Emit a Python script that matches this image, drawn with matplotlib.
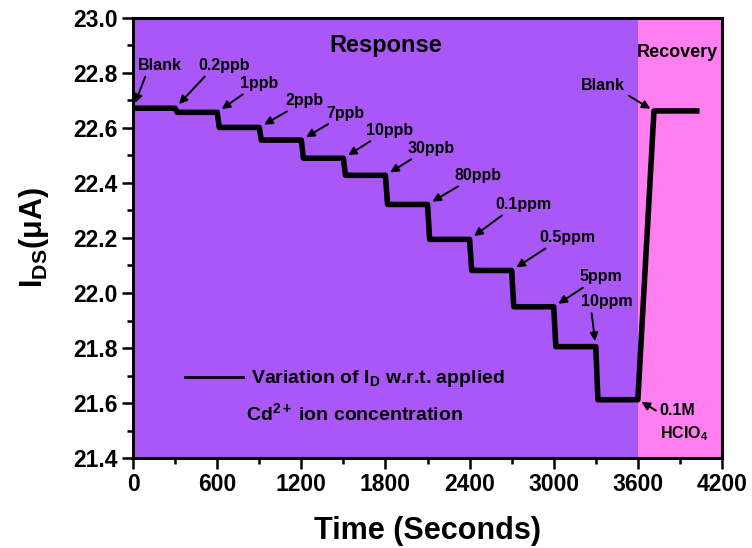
import matplotlib
matplotlib.use('Agg')
import matplotlib.pyplot as plt
from matplotlib.lines import Line2D

plt.rcParams['font.family'] = ['Liberation Sans', 'DejaVu Sans']
plt.rcParams['font.weight'] = 'bold'
plt.rcParams['mathtext.fontset'] = 'custom'
plt.rcParams['mathtext.rm'] = 'Liberation Sans:bold'
plt.rcParams['mathtext.bf'] = 'Liberation Sans:bold'
plt.rcParams['mathtext.it'] = 'Liberation Sans:bold:italic'
plt.rcParams['mathtext.default'] = 'bf'

# Datos
step_t = [0, 300, 600, 900, 1200, 1500, 1800, 2100, 2400, 2700, 3000, 3300]
levels = [22.672, 22.657, 22.602, 22.556, 22.490, 22.428, 22.322,
          22.195, 22.082, 21.950, 21.805, 21.612]
conc_labels = ['Blank', '0.2ppb', '1ppb', '2ppb', '7ppb', '10ppb', '30ppb',
               '80ppb', '0.1ppm', '0.5ppm', '5ppm', '10ppm']
resp_end = 3600
rec_t = [3715, 4020]
rec_level = 22.662

# desplazamiento del texto de cada etiqueta (pixeles)
label_offsets = [(5, 43), (23, 43), (23, 29), (26, 27), (25, 27), (23, 28),
                 (22, 27), (27, 29), (26, 35), (28, 33), (26, 30), (-15, 45)]

purple = '#a957f6'
pink = '#ff7ef0'

# construir la traza escalonada
t, cur = [], []
bounds = step_t[1:] + [resp_end]
for k, (t0, lvl) in enumerate(zip(step_t, levels)):
    start = t0 + 15 if k > 0 else t0
    t += [start, bounds[k]]
    cur += [lvl, lvl]
t += rec_t
cur += [rec_level, rec_level]

fig = plt.figure(figsize=(7.52, 5.48), dpi=100)
ax = fig.add_axes([0.1769, 0.1642, 0.7832, 0.803])

ax.axvspan(0, resp_end, color=purple, lw=0, zorder=0)
ax.axvspan(resp_end, 4200, color=pink, lw=0, zorder=0)
ax.plot(t, cur, color='black', lw=4, zorder=3)

ax.set_xlim(0, 4200)
ax.set_ylim(21.4, 23.0)
ax.set_xticks(range(0, 4201, 600))
ax.set_xticks(range(300, 4200, 600), minor=True)
ax.set_yticks([21.4, 21.6, 21.8, 22.0, 22.2, 22.4, 22.6, 22.8, 23.0])
ax.set_yticks([21.5, 21.7, 21.9, 22.1, 22.3, 22.5, 22.7, 22.9], minor=True)
ax.yaxis.set_major_formatter(matplotlib.ticker.FormatStrFormatter('%.1f'))
ax.tick_params(which='major', length=8, width=1.8, labelsize=16.5, pad=3)
ax.tick_params(which='minor', length=4.5, width=1.8)
for s in ax.spines.values():
    s.set_linewidth(2.2)

ax.set_xlabel('Time (Seconds)', fontsize=22, fontweight='bold', labelpad=14)
ax.set_ylabel('I$_{DS}$(μA)', fontsize=22, fontweight='bold', labelpad=16)

# flechas de concentracion
for k, lab in enumerate(conc_labels):
    prev = levels[k - 1] if k > 0 else levels[0]
    dx, dy = label_offsets[k]
    ax.annotate(lab, xy=(step_t[k], prev), xytext=(dx, dy),
                textcoords='offset pixels', ha='left', va='center',
                fontsize=11.5, zorder=5,
                arrowprops=dict(arrowstyle='-|>', color='black', lw=1.4,
                                mutation_scale=12, shrinkA=1, shrinkB=4,
                                relpos=(0.2, 0)))

ax.annotate('0.1M\nHClO$_4$', xy=(resp_end, levels[-1]), xytext=(22, -3),
            textcoords='offset pixels', ha='left', va='top', fontsize=11.5,
            linespacing=1.5, zorder=5,
            arrowprops=dict(arrowstyle='-|>', color='black', lw=1.4,
                            mutation_scale=12, shrinkA=1, shrinkB=3,
                            relpos=(0, 0.75)))
ax.annotate('Blank', xy=(rec_t[0], rec_level), xytext=(-29, 25),
            textcoords='offset pixels', ha='right', va='center', fontsize=11.5,
            zorder=5,
            arrowprops=dict(arrowstyle='-|>', color='black', lw=1.4,
                            mutation_scale=12, shrinkA=1, shrinkB=3,
                            relpos=(1, 0)))

ax.text(1800, 22.9, 'Response', ha='center', va='center', fontsize=17)
ax.text(3880, 22.876, 'Recovery', ha='center', va='center', fontsize=13)

handle = Line2D([], [], color='black', lw=2)
ax.legend([handle], ['Variation of I$_D$ w.r.t. applied'],
          loc='center left', bbox_to_anchor=(0.088, 0.18), frameon=False,
          fontsize=14, handlelength=3.0, handletextpad=0.4,
          borderpad=0, borderaxespad=0)
ax.text(0.1915, 0.102, r'Cd$^{\mathregular{2+}}$ ion concentration',
        transform=ax.transAxes, ha='left', va='center', fontsize=14)

plt.savefig('out.png', dpi=100)
